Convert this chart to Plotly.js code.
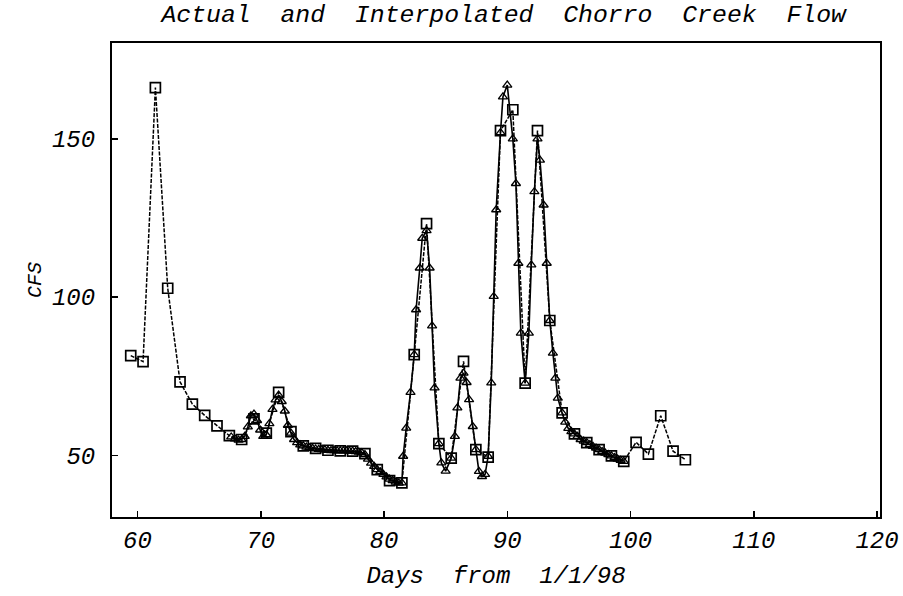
<!DOCTYPE html>
<html>
<head>
<meta charset="utf-8">
<script src="https://cdn.plot.ly/plotly-3.0.1.min.js"></script>
<style>html,body{margin:0;padding:0;background:#fff;}</style>
</head>
<body>
<div id="chart" style="width:903px;height:596px;"></div>
<script>
// Actual daily flow (squares)
var actualDays = [59.45, 60.45, 61.45, 62.45, 63.45, 64.45, 65.45, 66.45, 67.45, 68.45,
  69.45, 70.45, 71.45, 72.45, 73.45, 74.45, 75.45, 76.45, 77.45, 78.45,
  79.45, 80.45, 81.45, 82.45, 83.45, 84.45, 85.45, 86.45, 87.45, 88.45,
  89.45, 90.45, 91.45, 92.45, 93.45, 94.45, 95.45, 96.45, 97.45, 98.45,
  99.45, 100.45, 101.45, 102.45, 103.45, 104.45];
var actualCfs = [81.5, 79.6, 166.2, 102.8, 73.2, 66.2, 62.6, 59.3, 56.2, 55.0,
  61.5, 57.0, 69.9, 57.5, 53.0, 52.2, 51.6, 51.4, 51.3, 50.5,
  45.5, 42.0, 41.3, 81.8, 123.2, 53.7, 49.1, 79.7, 51.8, 49.4,
  152.6, 159.2, 72.8, 152.6, 92.6, 63.4, 56.8, 54.0, 51.8, 49.8,
  48.1, 54.1, 50.4, 62.5, 51.3, 48.6];

// Interpolated flow (triangles)
var interpDays = [67.6, 67.9, 68.2, 68.45, 68.7, 68.95, 69.2, 69.45, 69.7, 69.95,
  70.2, 70.45, 70.7, 70.95, 71.2, 71.45, 71.7, 71.95, 72.2, 72.45,
  72.7, 72.95, 73.2, 73.45, 73.7, 73.95, 74.2, 74.45, 74.7, 74.95,
  75.2, 75.45, 75.7, 75.95, 76.2, 76.45, 76.7, 76.95, 77.2, 77.45,
  77.7, 77.95, 78.2, 78.45, 78.7, 78.95, 79.2, 79.45, 79.7, 79.95,
  80.2, 80.45, 80.7, 80.95, 81.2, 81.45, 81.55, 81.8, 82.15, 82.45,
  82.6, 82.9, 83.1, 83.45, 83.7, 83.9, 84.1, 84.45, 84.65, 85.0,
  85.45, 85.75, 85.95, 86.2, 86.45, 86.7, 86.9, 87.2, 87.45, 87.7,
  87.95, 88.2, 88.45, 88.7, 88.9, 89.1, 89.45, 89.65, 90.0, 90.45,
  90.7, 90.9, 91.1, 91.45, 91.75, 91.95, 92.2, 92.45, 92.65, 92.95,
  93.2, 93.45, 93.7, 93.9, 94.1, 94.45, 94.7, 94.95, 95.2, 95.45,
  95.7, 95.95, 96.2, 96.45, 96.7, 96.95, 97.2, 97.45, 97.7, 97.95,
  98.2, 98.45, 98.7, 98.95, 99.2, 99.45];
var interpCfs = [55.8, 55.2, 54.8, 55.0, 56.0, 59.0, 62.5, 63.0, 61.0, 58.0,
  56.0, 56.5, 60.0, 64.5, 67.5, 69.0, 67.0, 64.0, 59.5, 57.0,
  55.0, 54.0, 53.3, 53.0, 52.6, 52.4, 52.2, 52.0, 51.9, 51.8,
  51.7, 51.6, 51.5, 51.5, 51.4, 51.4, 51.4, 51.4, 51.3, 51.3,
  51.2, 51.0, 50.8, 50.2, 48.8, 47.5, 46.5, 45.5, 44.8, 44.0,
  43.2, 42.5, 42.0, 41.5, 41.2, 41.3, 49.7, 58.6, 69.9, 81.8,
  96.0, 109.2, 118.6, 121.0, 109.2, 90.9, 71.3, 53.7, 47.6, 45.0,
  49.1, 56.0, 65.0, 74.4, 76.0, 73.0, 67.6, 59.1, 51.8, 44.9,
  43.3, 44.0, 49.7, 72.9, 100.2, 127.6, 152.0, 163.3, 167.0, 150.0,
  135.9, 110.7, 88.6, 72.8, 88.6, 110.2, 133.3, 150.0, 143.3, 129.1,
  110.7, 92.6, 82.3, 74.4, 68.1, 63.4, 60.5, 58.5, 57.5, 56.8,
  56.0, 55.0, 54.5, 54.0, 53.4, 52.8, 52.3, 51.8, 51.2, 50.7,
  50.2, 49.8, 49.3, 48.8, 48.4, 48.1];

var xTicks = [60, 70, 80, 90, 100, 110, 120];
var yTicks = [50, 100, 150];

var FONT = '"Courier New", "Liberation Mono", monospace';

var traces = [
  {
    x: interpDays, y: interpCfs, type: 'scatter', mode: 'lines+markers',
    name: 'Interpolated',
    line: {color: '#000', width: 1.6},
    marker: {symbol: 'triangle-up-open', size: 8, color: '#000', line: {color: '#000', width: 1.3}}
  },
  {
    x: actualDays, y: actualCfs, type: 'scatter', mode: 'lines+markers',
    name: 'Actual',
    line: {color: '#000', width: 1.5, dash: '4px,1.5px'},
    marker: {symbol: 'square-open', size: 10, color: '#000', line: {color: '#000', width: 1.7}}
  }
];

var layout = {
  width: 903, height: 596,
  margin: {l: 112, r: 23, t: 43, b: 79},
  paper_bgcolor: '#fff', plot_bgcolor: '#fff',
  showlegend: false,
  font: {family: FONT, size: 24, color: '#000', style: 'italic'},
  title: {
    text: 'Actual\u00a0\u00a0and\u00a0\u00a0Interpolated\u00a0\u00a0Chorro\u00a0\u00a0Creek\u00a0\u00a0Flow',
    font: {family: FONT, size: 24.8, color: '#000', style: 'italic'},
    x: 0.51, xref: 'paper', xanchor: 'center',
    y: 0.978, yref: 'container', yanchor: 'middle'
  },
  xaxis: {
    range: [57.93, 120.24],
    tickvals: xTicks, ticktext: xTicks.map(String),
    ticks: 'inside', ticklen: 6, tickwidth: 1.5, tickcolor: '#000',
    showline: true, linecolor: '#000', linewidth: 2, mirror: true,
    showgrid: false, zeroline: false,
    tickfont: {family: FONT, size: 24, color: '#000', style: 'italic'},
    title: {text: 'Days\u00a0\u00a0from\u00a0\u00a01/1/98', font: {family: FONT, size: 24, color: '#000', style: 'italic'}, standoff: 12}
  },
  yaxis: {
    range: [30.5, 180.3],
    tickvals: yTicks, ticktext: yTicks.map(String),
    ticks: 'inside', ticklen: 6, tickwidth: 1.5, tickcolor: '#000',
    ticklabelstandoff: 10,
    showline: true, linecolor: '#000', linewidth: 2, mirror: true,
    showgrid: false, zeroline: false,
    tickfont: {family: FONT, size: 24, color: '#000', style: 'italic'},
    title: {text: 'CFS', font: {family: FONT, size: 20, color: '#000', style: 'italic'}, standoff: 5}
  }
};

Plotly.newPlot('chart', traces, layout, {staticPlot: true, displayModeBar: false});
</script>
</body>
</html>
